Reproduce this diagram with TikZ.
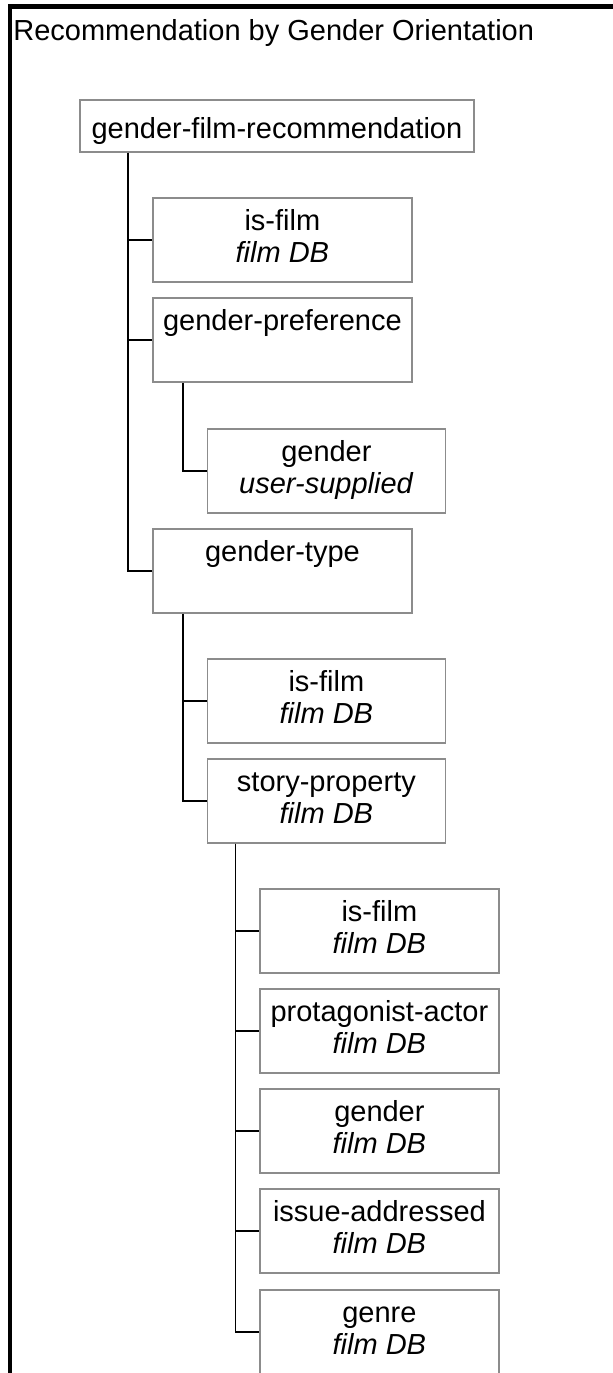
\documentclass[tikz,border=0pt]{standalone}
\usepackage{fontspec}
\setmainfont{Liberation Sans}
\usepackage{tikz}
\definecolor{boxgray}{RGB}{140,140,140}
\tikzset{
	txt/.style={font=\fontsize{14.5}{16.2}\selectfont},
	box/.style={txt,draw=boxgray,line width=0.9pt,anchor=north west,inner sep=0pt,minimum width=#1,minimum height=42pt,align=center,execute at begin node={\rule{0pt}{17.3pt}}},
	link/.style={line width=0.8pt,black}
}

\begin{document}
\begin{tikzpicture}[x=0.5pt,y=-0.5pt]
						\useasboundingbox (0,0) rectangle (613,1373);
						\draw [line width=2.25pt] (9.75,1380) -- (9.75,6.5) -- (620,6.5);
						
						\node [txt,anchor=base west,inner sep=0pt] (title) at (13,40) {Recommendation by Gender Orientation};
						\node [box=197pt,minimum height=26pt,execute at begin node={\rule{0pt}{14.3pt}}] (rec) at (79,99) {\strut gender-film-recommendation};
						\node [box=129.5pt] (film) at (152,197) {\strut is-film\\\strut\textit{film DB}};
						\node [box=129.5pt] (pref) at (152,297) {\strut gender-preference\\\strut};
						\node [box=119pt] (gend) at (206.5,428) {\strut gender\\\strut\textit{user-supplied}};
						\node [box=129.5pt] (type) at (152,528) {\strut gender-type\\\strut};
						\node [box=119pt] (tfilm) at (206.5,658) {\strut is-film\\\strut\textit{film DB}};
						\node [box=119pt] (story) at (206.5,758) {\strut story-property\\\strut\textit{film DB}};
						\node [box=119.5pt] (sfilm) at (259,888) {\strut is-film\\\strut\textit{film DB}};
						\node [box=119.5pt] (actor) at (259,988) {\strut protagonist-actor\\\strut\textit{film DB}};
						\node [box=119.5pt] (sgend) at (259,1088) {\strut gender\\\strut\textit{film DB}};
						\node [box=119.5pt] (issue) at (259,1188) {\strut issue-addressed\\\strut\textit{film DB}};
						\node [box=119.5pt] (genre) at (259,1289) {\strut genre\\\strut\textit{film DB}};
						
						\foreach \n in {film,pref,type}
							\draw [link] ([xshift=24.5pt]rec.south west) |- (\n.west);
						\draw [link] ([xshift=15.5pt]pref.south west) |- (gend.west);
						\foreach \n in {tfilm,story}
							\draw [link] ([xshift=15.5pt]type.south west) |- (\n.west);
						\foreach \n in {sfilm,actor,sgend,issue,genre}
							\draw [link] ([xshift=14.5pt]story.south west) |- (\n.west);
					\end{tikzpicture}
\end{document}
